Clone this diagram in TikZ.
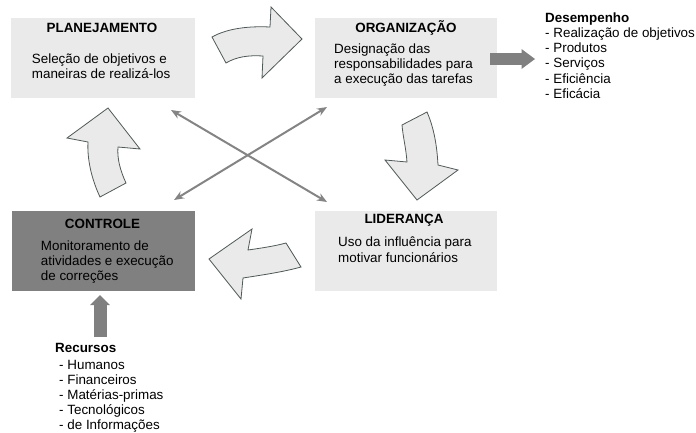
\documentclass[tikz,border=0pt]{standalone}
\usepackage{fontspec}
\setmainfont{Liberation Sans}
\usetikzlibrary{arrows.meta,positioning}
\definecolor{boxgray}{HTML}{EAEAEA}
\definecolor{ctrlgray}{HTML}{808080}
\definecolor{fatgray}{HTML}{808080}
\definecolor{linegray}{HTML}{848484}
\definecolor{edgegray}{HTML}{505858}

\begin{document}
\begin{tikzpicture}[x=1pt,y=-1pt,
  txt/.style={font=\fontsize{13.4}{15.2}\selectfont,inner sep=0pt,align=left},
  ttl/.style={font=\fontsize{13.4}{15.2}\selectfont\bfseries,inner sep=0pt},
  box/.style={fill=boxgray,inner sep=0pt,anchor=north west,minimum width=184,minimum height=80},
  bendarrow/.style={fill=boxgray,draw=edgegray,line width=.8pt},
  crossarrow/.style={draw=linegray,line width=2pt,{Stealth[length=10pt,width=8pt]}-{Stealth[length=10pt,width=8pt]}},
  fatarrow/.style={draw=fatgray,-{Triangle[length=#1,width=20pt,line width=0pt]}}]
  % helper grid: comment for final drawing
  % \draw[help lines,step=10] (0,0) grid (696,432);
  % \foreach \x in {0,100,...,600}
  %      \node[anchor=north] at (\x,0) {\x};
  \useasboundingbox (0,0) rectangle (696,432);
  \node[box] (plan) at (11,18) {};
  \node[box,minimum width=182] (org) at (315,18) {};
  \node[box,fill=ctrlgray,minimum width=183] (ctrl) at (12,211) {};
  \node[box,minimum width=182] (lider) at (315,211) {};
  \node[ttl,anchor=base] (planT) at (102,32.3) {PLANEJAMENTO};
  \node[txt,anchor=north west] (planD) at (31.7,53.6) {Seleção de objetivos e\\maneiras de realizá-los};
  \node[ttl,anchor=base] (orgT) at (406,32.3) {ORGANIZAÇÃO};
  \node[txt,anchor=north west] (orgD) at (334,43.6) {Designação das\\responsabilidades para\\a execução das tarefas};
  \node[ttl,anchor=base] (ctrlT) at (102.5,228.3) {CONTROLE};
  \node[txt,anchor=north west] (ctrlD) at (40.7,240.3) {Monitoramento de\\atividades e execução\\de correções};
  \node[ttl,anchor=base] (liderT) at (404,223.3) {LIDERANÇA};
  \node[txt,anchor=north west] (liderD) at (338,237) {Uso da influência para\\motivar funcionários};
  \node[txt,anchor=north west] (desemp) at (545,12.3) {\textbf{Desempenho}\\- Realização de objetivos\\- Produtos\\- Serviços\\- Eficiência\\- Eficácia};
  \node[ttl,anchor=base west] (recT) at (55,352.7) {Recursos};
  \node[txt,anchor=north west,font=\fontsize{13.4}{14.8}\selectfont] (recL) at (59,360.5) {- Humanos\\- Financeiros\\- Matérias-primas\\- Tecnológicos\\- de Informações};
  % curved arrows of the cycle
  \draw[bendarrow] (212,37) .. controls (228,28) and (250,26) .. (270,27) -- (271,7) -- (302,39)
    -- (262,78) -- (263,56) .. controls (248,55) and (236,57) .. (226,63) -- cycle;
  \draw[bendarrow] (402,125) -- (427,112) .. controls (434,128) and (437,146) .. (438,165) -- (458,170)
    -- (417,200) -- (385,160) -- (407,162) .. controls (406,148) and (403,137) .. (402,125) -- cycle;
  \draw[bendarrow] (286,243) -- (301,267) .. controls (283,272) and (262,275) .. (243,278) -- (241,299)
    -- (209,259) -- (252,229) -- (248,250) .. controls (262,248) and (275,246) .. (286,243) -- cycle;
  \draw[bendarrow] (100,197) -- (126,183) .. controls (120,170) and (117,158) .. (118,147) -- (140,149)
    -- (108,108) -- (67,138) -- (88,142) .. controls (87,160) and (92,180) .. (100,197) -- cycle;
  % crossed arrows
  \coordinate (xa1) at (171,110);
  \coordinate (xa2) at (327,202);
  \coordinate (xb1) at (174,200);
  \coordinate (xb2) at (327,107);
  \draw[crossarrow] (xa1) -- (xa2);
  \draw[crossarrow] (xb1) -- (xb2);
  % inputs and outputs
  \coordinate (dStart) at (490,59);
  \coordinate (dEnd) at (535,59);
  \draw[fatarrow=13.5pt,line width=12pt] (dStart) -- (dEnd);
  \coordinate (rStart) at (100,337);
  \coordinate (rEnd) at (100,295);
  \draw[fatarrow=10pt,line width=13pt] (rStart) -- (rEnd);
\end{tikzpicture}
\end{document}
